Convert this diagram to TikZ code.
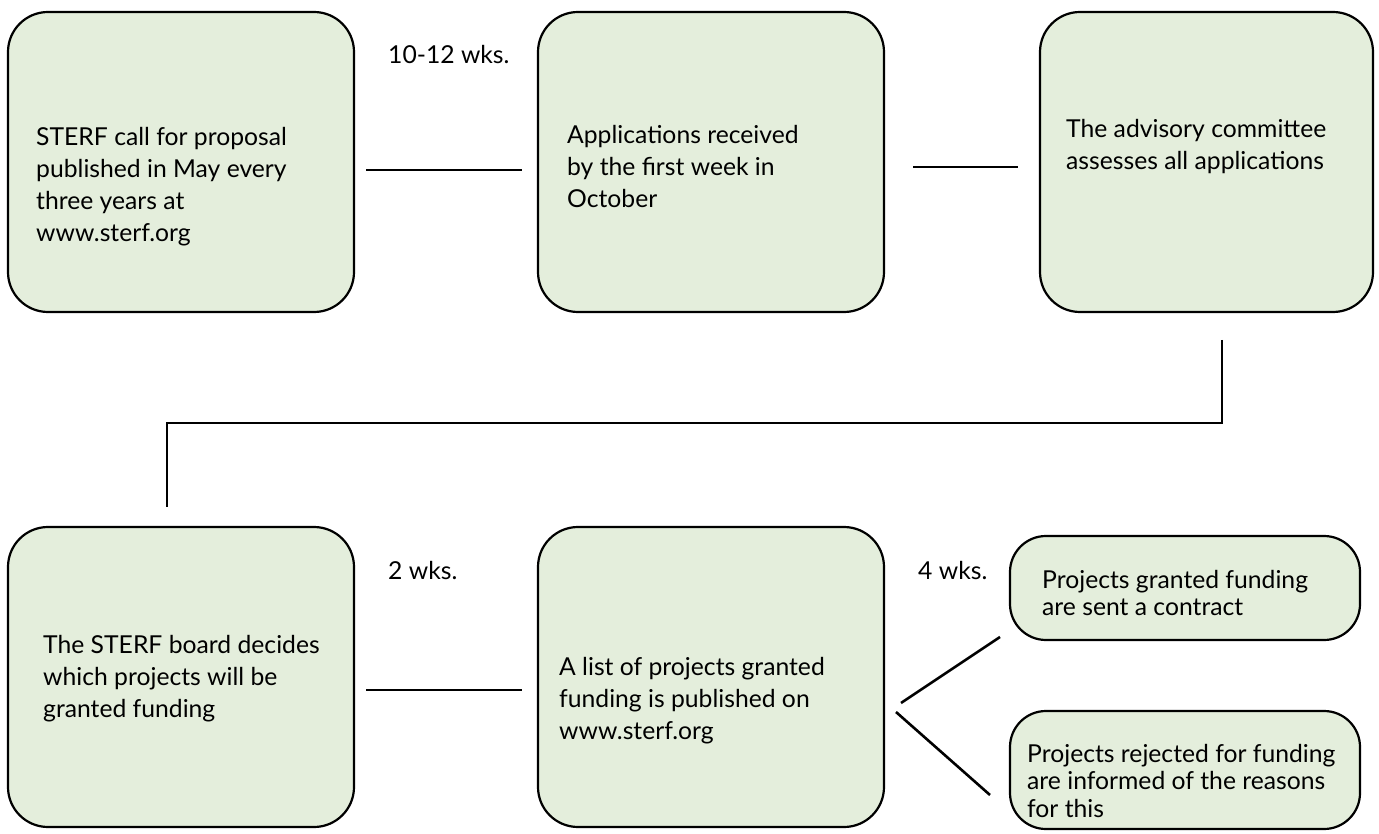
\documentclass[tikz,border=0pt]{standalone}
\usepackage{fontspec}
\setmainfont{Lato}
\definecolor{boxfill}{RGB}{228,238,220}
\begin{document}
\begin{tikzpicture}[x=1pt,y=-1pt,
  box/.style={draw=black, line width=2.2pt, fill=boxfill, rounded corners=40pt, inner sep=0pt},
  smallbox/.style={box, rounded corners=36pt},
  txt/.style={anchor=north west, align=left, inner sep=0pt, font=\fontsize{24.7}{32}\selectfont},
  txtb/.style={txt, font=\fontsize{24.7}{27.5}\selectfont},
  lbl/.style={anchor=base west, inner sep=0pt, font=\fontsize{24.7}{32}\selectfont},
  conn/.style={line width=2.6pt, draw=black}]
\useasboundingbox (0,0) rectangle (1379,834);

% boxes
\node[box, minimum width=346pt, minimum height=300pt] (b1) at (181,162) {};
\node[box, minimum width=346pt, minimum height=300pt] (b2) at (711,162) {};
\node[box, minimum width=333pt, minimum height=300pt] (b3) at (1206.5,162) {};
\node[box, minimum width=346pt, minimum height=300pt] (b4) at (181,677) {};
\node[box, minimum width=346pt, minimum height=300pt] (b5) at (711,677) {};
\node[smallbox, minimum width=350pt, minimum height=104pt] (b6) at (1185,588) {};
\node[smallbox, minimum width=350pt, minimum height=118pt] (b7) at (1185,770) {};

% texts
\node[txt] (t1) at (36,127) {STERF call for proposal\\published in May every\\three years at\\www.sterf.org};
\node[txt] (t2) at (567,125) {Applications received\\by the first week in\\October};
\node[txt] (t3) at (1066,119) {The advisory committee\\assesses all applications};
\node[txt] (t4) at (43,635) {The STERF board decides\\which projects will be\\granted funding};
\node[txt] (t5) at (559,657) {A list of projects granted\\funding is published on\\www.sterf.org};
\node[txtb] (t6) at (1042,570) {Projects granted funding\\are sent a contract};
\node[txtb] (t7) at (1027,744) {Projects rejected for funding\\are informed of the reasons\\for this};

% labels
\node[lbl] (w1) at (388,64) {10-12 wks.};
\node[lbl] (w2) at (388,579) {2 wks.};
\node[lbl] (w3) at (918,579) {4 wks.};

% connector end points
\coordinate (c1a) at (366,170);
\coordinate (c1b) at (522,170);
\coordinate (c2a) at (913,167);
\coordinate (c2b) at (1018,167);
\coordinate (c3a) at (1222,340);
\coordinate (c3m) at (1222,423);
\coordinate (c3n) at (167,423);
\coordinate (c3b) at (167,507);
\coordinate (c4a) at (366,690);
\coordinate (c4b) at (522,690);
\coordinate (c5a) at (901,703);
\coordinate (c5b) at (1000,637);
\coordinate (c6a) at (896,712);
\coordinate (c6b) at (990,795);

\draw[conn] (c1a) -- (c1b);
\draw[conn] (c2a) -- (c2b);
\draw[conn] (c3a) -- (c3m) -- (c3n) -- (c3b);
\draw[conn] (c4a) -- (c4b);
\draw[conn] (c5a) -- (c5b);
\draw[conn] (c6a) -- (c6b);
\end{tikzpicture}
\end{document}
